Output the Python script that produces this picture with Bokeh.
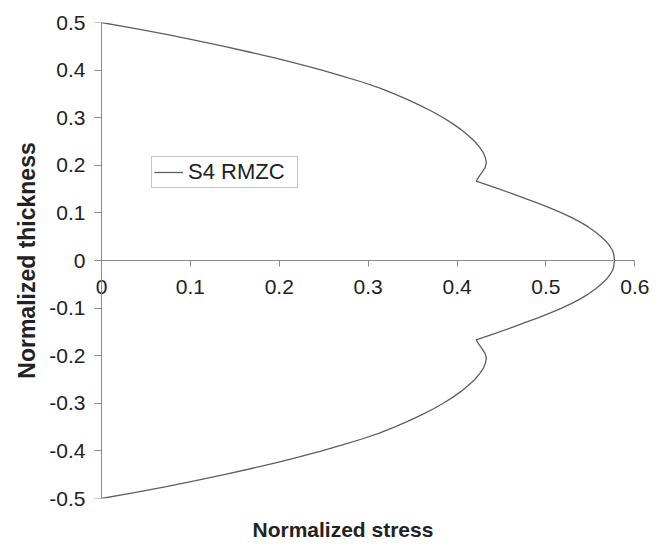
from bokeh.plotting import figure
from bokeh.models import Range1d, FixedTicker, ColumnDataSource, LinearAxis, Title
from bokeh.embed import file_html
from bokeh.resources import INLINE

# Curve (top to bottom through the thickness)
stress = [0.000, 0.037, 0.073, 0.106, 0.138, 0.1675, 0.196, 0.2225, 0.248, 0.271, 0.293,
          0.3125, 0.3295, 0.345, 0.3595, 0.3725, 0.3845, 0.395, 0.4045, 0.4125, 0.420,
          0.4255, 0.430, 0.432, 0.433, 0.4315, 0.428, 0.4243, 0.4215,
          0.443, 0.4627, 0.477, 0.4917, 0.505, 0.5177, 0.529, 0.5392, 0.548, 0.5557,
          0.562, 0.5677, 0.572, 0.5752, 0.5765, 0.577,
          0.5765, 0.5752, 0.572, 0.5677, 0.562, 0.5557, 0.548, 0.5392, 0.529, 0.5177,
          0.505, 0.4917, 0.477, 0.4627, 0.443,
          0.4215, 0.4243, 0.428, 0.4315, 0.433, 0.432, 0.430, 0.4255, 0.420, 0.4125,
          0.4045, 0.395, 0.3845, 0.3725, 0.3595, 0.345, 0.3295, 0.3125, 0.293, 0.271,
          0.248, 0.2225, 0.196, 0.1675, 0.138, 0.106, 0.073, 0.037, 0.000]
thickness = [0.500, 0.4875, 0.475, 0.4625, 0.450, 0.4375, 0.425, 0.4125, 0.400, 0.3875, 0.375,
             0.3625, 0.350, 0.3375, 0.325, 0.3125, 0.300, 0.2875, 0.275, 0.2625, 0.250,
             0.2375, 0.225, 0.215, 0.205, 0.195, 0.185, 0.175, 0.1666,
             0.153, 0.140, 0.130, 0.120, 0.110, 0.100, 0.090, 0.080, 0.070, 0.060,
             0.050, 0.040, 0.030, 0.020, 0.010, 0.000,
             -0.010, -0.020, -0.030, -0.040, -0.050, -0.060, -0.070, -0.080, -0.090, -0.100,
             -0.110, -0.120, -0.130, -0.140, -0.153,
             -0.1666, -0.175, -0.185, -0.195, -0.205, -0.215, -0.225, -0.2375, -0.250, -0.2625,
             -0.275, -0.2875, -0.300, -0.3125, -0.325, -0.3375, -0.350, -0.3625, -0.375, -0.3875,
             -0.400, -0.4125, -0.425, -0.4375, -0.450, -0.4625, -0.475, -0.4875, -0.500]
series_name = "S4 RMZC"

x_ticks = [0.0, 0.1, 0.2, 0.3, 0.4, 0.5, 0.6]
x_labels = ["0", "0.1", "0.2", "0.3", "0.4", "0.5", "0.6"]
y_ticks = [-0.5, -0.4, -0.3, -0.2, -0.1, 0.0, 0.1, 0.2, 0.3, 0.4, 0.5]
y_labels = ["-0.5", "-0.4", "-0.3", "-0.2", "-0.1", "0", "0.1", "0.2", "0.3", "0.4", "0.5"]
x_title = "Normalized stress"
y_title = "Normalized thickness"

FONT = "Liberation Sans"
TEXT = "#222222"
AXIS = "#8a8a8a"

# frame widened a little on both sides so the end tick labels of the
# crossing axis are not clipped; the axes themselves are bounded to 0..0.6
p = figure(width=656, height=545, output_backend="svg", toolbar_location=None,
           x_range=Range1d(-0.0146, 0.6176), y_range=Range1d(-0.5, 0.5),
           min_border_left=88, min_border_right=6, min_border_top=22, min_border_bottom=47)
p.grid.visible = False
p.outline_line_color = None
p.background_fill_color = "white"
p.border_fill_color = "white"

src = ColumnDataSource(dict(x=stress, y=thickness))
p.line("x", "y", source=src, line_color="#5e5e5e", line_width=1.3, legend_label=series_name)

# x axis crossing at y = 0
xa = p.xaxis[0]
xa.fixed_location = 0
xa.bounds = (0, 0.6)
xa.ticker = FixedTicker(ticks=x_ticks, minor_ticks=[])
xa.major_label_overrides = {t: l for t, l in zip(x_ticks, x_labels)}
xa.axis_line_color = AXIS
xa.major_tick_line_color = AXIS
xa.major_tick_out = 6
xa.major_tick_in = 0
xa.major_label_standoff = 13
xa.major_label_text_font = FONT
xa.major_label_text_font_size = "21px"
xa.major_label_text_color = TEXT

# invisible spacer in the bottom panel, pushes the x title down
spacer = LinearAxis(ticker=FixedTicker(ticks=[0.3], minor_ticks=[]), axis_line_color=None,
                    major_tick_line_color=None, minor_tick_line_color=None,
                    major_tick_out=17, major_tick_in=0, major_label_standoff=0,
                    major_label_overrides={0.3: ""}, major_label_text_font_size="1px",
                    major_label_text_color=None)
p.add_layout(spacer, "below")

# left panel axis: only tick labels and title
ya = p.yaxis[0]
ya.ticker = FixedTicker(ticks=y_ticks, minor_ticks=[])
ya.major_label_overrides = {t: l for t, l in zip(y_ticks, y_labels)}
ya.axis_line_color = None
ya.major_tick_line_color = None
ya.major_tick_out = 0
ya.major_tick_in = 0
ya.major_label_standoff = 3
ya.major_label_text_font = FONT
ya.major_label_text_font_size = "21px"
ya.major_label_text_color = TEXT
ya.axis_label = y_title
ya.axis_label_text_font = FONT
ya.axis_label_text_font_size = "23px"
ya.axis_label_text_font_style = "bold"
ya.axis_label_text_color = TEXT
ya.axis_label_standoff = 6

# y axis line and ticks at x = 0
ya0 = LinearAxis(fixed_location=0, bounds=(-0.5, 0.5),
                 ticker=FixedTicker(ticks=y_ticks, minor_ticks=[]),
                 axis_line_color=AXIS, major_tick_line_color=AXIS,
                 major_tick_out=7, major_tick_in=0, major_label_text_color=None)
p.add_layout(ya0, "left")

p.add_layout(Title(text=x_title, align="left", offset=164, standoff=0,
                   text_font=FONT, text_font_size="21px", text_font_style="bold",
                   text_color=TEXT), "below")

lg = p.legend[0]
lg.location = (63, 310)
lg.border_line_color = AXIS
lg.border_line_width = 1
lg.background_fill_color = "white"
lg.background_fill_alpha = 1
lg.padding = 2
lg.margin = 0
lg.glyph_width = 29
lg.label_standoff = 5
lg.label_width = 107
lg.label_height = 20
lg.label_text_font = FONT
lg.label_text_font_size = "22px"
lg.label_text_color = TEXT

open("out.html", "w").write(file_html(p, INLINE))
